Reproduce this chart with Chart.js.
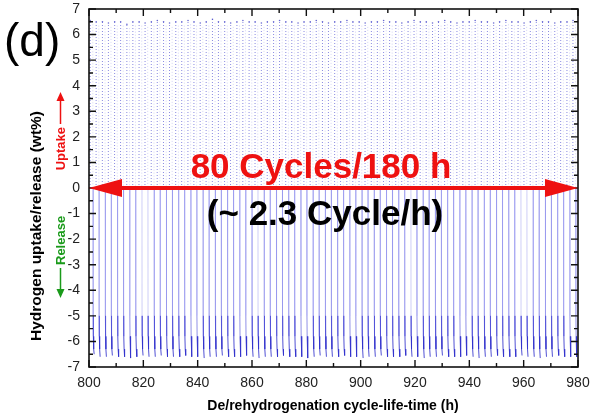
<!DOCTYPE html>
<html><head><meta charset="utf-8">
<script src="https://cdn.jsdelivr.net/npm/chart.js@4"></script>
<style>html,body{margin:0;padding:0;background:#fff}canvas{display:block}</style>
</head><body>
<canvas id="c" width="592" height="416"></canvas>
<script>
// Cycle start times (h) (~2.25 h per cycle)
const cycleStart = [800.4,802.6,804.9,807.1,809.4,811.6,813.9,816.1,818.4,820.6,822.9,825.1,827.4,829.6,831.9,834.1,836.4,838.6,840.9,843.1,845.4,847.6,849.9,852.1,854.4,856.6,858.9,861.1,863.4,865.6,867.9,870.1,872.4,874.6,876.9,879.1,881.4,883.6,885.9,888.1,890.4,892.6,894.9,897.1,899.4,901.6,903.9,906.1,908.4,910.6,912.9,915.1,917.4,919.6,921.9,924.1,926.4,928.6,930.9,933.1,935.4,937.6,939.9,942.1,944.4,946.6,948.9,951.1,953.4,955.6,957.9,960.1,962.4,964.6,966.9,969.1,971.4,973.6,975.9,978.1];
// Uptake maximum per cycle (wt%)
const uptakeMax = [6.55,6.5,6.5,6.45,6.5,6.5,6.4,6.5,6.5,6.45,6.5,6.55,6.5,6.45,6.5,6.5,6.55,6.5,6.45,6.5,6.6,6.5,6.5,6.45,6.5,6.55,6.5,6.5,6.45,6.5,6.5,6.55,6.5,6.5,6.45,6.5,6.5,6.55,6.5,6.45,6.5,6.5,6.55,6.5,6.5,6.45,6.5,6.5,6.55,6.5,6.5,6.45,6.5,6.55,6.5,6.5,6.45,6.5,6.55,6.5,6.45,6.5,6.5,6.55,6.5,6.5,6.45,6.5,6.55,6.5,6.5,6.45,6.5,6.55,6.5,6.5,6.45,6.5,6.5,6.55];
// Release minimum per cycle (wt%)
const releaseMin = [-6.5,-6.6,-6.6,-6.55,-6.6,-6.6,-6.65,-6.6,-6.55,-6.6,-6.6,-6.55,-6.6,-6.6,-6.6,-6.55,-6.6,-6.6,-6.65,-6.6,-6.6,-6.55,-6.6,-6.6,-6.6,-6.55,-6.6,-6.65,-6.6,-6.6,-6.6,-6.55,-6.6,-6.6,-6.6,-6.65,-6.6,-6.55,-6.6,-6.6,-6.6,-6.55,-6.6,-6.6,-6.65,-6.6,-6.6,-6.55,-6.6,-6.6,-6.6,-6.55,-6.6,-6.6,-6.65,-6.6,-6.6,-6.55,-6.6,-6.6,-6.6,-6.55,-6.6,-6.65,-6.6,-6.6,-6.55,-6.6,-6.6,-6.6,-6.55,-6.6,-6.6,-6.65,-6.6,-6.6,-6.55,-6.6,-6.6,-6.6];
// Shape of one release trace: time offset (h) and level (wt%), last point is the cycle minimum
const releaseShapeT = [1.10, 1.13, 1.20, 1.32];
const releaseShapeY = [0, -5.0, -5.8, -6.3];
const xTicks = [800,820,840,860,880,900,920,940,960,980];
const yTicks = [7,6,5,4,3,2,1,0,-1,-2,-3,-4,-5,-6,-7];

// build the per-cycle traces
const upData = [], retData = [], relData = [], tipData = [];
cycleStart.forEach((t, i) => {
  upData.push({x: t, y: 0}, {x: t + 0.05, y: uptakeMax[i]}, {x: t + 0.06, y: null});
  retData.push({x: t + 1.0, y: uptakeMax[i] - 0.15}, {x: t + 1.02, y: 0}, {x: t + 1.03, y: null});
  releaseShapeT.forEach((dt, k) => relData.push({x: t + dt, y: releaseShapeY[k]}));
  relData.push({x: t + 1.5, y: releaseMin[i]}, {x: t + 1.51, y: null});
  tipData.push({x: t + 0.05, y: uptakeMax[i]});
});

const FONT = 'Liberation Sans, Arial, sans-serif';

const deco = {
  id: 'deco',
  afterDraw(chart) {
    const ctx = chart.ctx, xs = chart.scales.x, ys = chart.scales.y, a = chart.chartArea;
    ctx.save();
    // frame
    ctx.strokeStyle = '#111'; ctx.lineWidth = 1.6;
    ctx.strokeRect(a.left, a.top, a.right - a.left, a.bottom - a.top);
    // ticks
    ctx.lineWidth = 1.4;
    ctx.beginPath();
    for (let v = 800; v <= 980; v += 10) {
      const p = xs.getPixelForValue(v), L = (v % 20 === 0) ? 7 : 4;
      ctx.moveTo(p, a.bottom); ctx.lineTo(p, a.bottom - L);
      ctx.moveTo(p, a.top); ctx.lineTo(p, a.top + L);
    }
    for (let k = -14; k <= 14; k++) {
      const v = k / 2, p = ys.getPixelForValue(v), L = (k % 2 === 0) ? 7 : 4;
      ctx.moveTo(a.left, p); ctx.lineTo(a.left + L, p);
      ctx.moveTo(a.right, p); ctx.lineTo(a.right - L, p);
    }
    ctx.stroke();
    // tick labels
    ctx.fillStyle = '#222';
    ctx.font = '14px ' + FONT;
    ctx.textAlign = 'center'; ctx.textBaseline = 'middle';
    xTicks.forEach(v => ctx.fillText(String(v), xs.getPixelForValue(v), a.bottom + 16));
    ctx.textAlign = 'right';
    yTicks.forEach(v => ctx.fillText(String(v), a.left - 9, ys.getPixelForValue(v)));
    ctx.textBaseline = 'alphabetic';
    // red double arrow on y = 0
    const y0 = ys.getPixelForValue(0);
    const xl = xs.getPixelForValue(800), xr = xs.getPixelForValue(980);
    ctx.fillStyle = '#ee1111'; ctx.strokeStyle = '#ee1111';
    ctx.lineWidth = 4;
    ctx.beginPath(); ctx.moveTo(xl + 20, y0); ctx.lineTo(xr - 20, y0); ctx.stroke();
    ctx.beginPath(); ctx.moveTo(xl, y0); ctx.lineTo(xl + 33, y0 - 9); ctx.lineTo(xl + 33, y0 + 9); ctx.closePath(); ctx.fill();
    ctx.beginPath(); ctx.moveTo(xr, y0); ctx.lineTo(xr - 33, y0 - 9); ctx.lineTo(xr - 33, y0 + 9); ctx.closePath(); ctx.fill();
    // big texts
    ctx.textAlign = 'center';
    ctx.font = 'bold 35px ' + FONT;
    ctx.fillStyle = '#ee1111';
    ctx.fillText('80 Cycles/180 h', 321, 178);
    ctx.fillStyle = '#000';
    ctx.fillText('(~ 2.3 Cycle/h)', 325, 225);
    // (d)
    ctx.textAlign = 'left';
    ctx.font = '46px ' + FONT;
    ctx.fillText('(d)', 4, 56);
    // x title
    ctx.textAlign = 'center';
    ctx.font = 'bold 14px ' + FONT;
    ctx.fillText('De/rehydrogenation cycle-life-time (h)', 333, 410);
    // y title
    ctx.save();
    ctx.translate(41, 226); ctx.rotate(-Math.PI / 2);
    ctx.font = 'bold 15.5px ' + FONT;
    ctx.fillText('Hydrogen uptake/release (wt%)', 0, 0);
    ctx.restore();
    // Uptake / Release labels with arrows
    ctx.save();
    ctx.translate(65, 0); ctx.rotate(-Math.PI / 2);
    ctx.font = 'bold 13px ' + FONT;
    ctx.textAlign = 'right';
    ctx.fillStyle = '#ee1111';
    ctx.fillText('Uptake', -127, 0);
    ctx.strokeStyle = '#ee1111'; ctx.lineWidth = 1.5;
    ctx.beginPath(); ctx.moveTo(-124, -4.5); ctx.lineTo(-100, -4.5); ctx.stroke();
    ctx.beginPath(); ctx.moveTo(-92, -4.5); ctx.lineTo(-101, -8.5); ctx.lineTo(-101, -0.5); ctx.closePath(); ctx.fill();
    ctx.fillStyle = '#1a9a1a'; ctx.strokeStyle = '#1a9a1a';
    ctx.textAlign = 'left';
    ctx.fillText('Release', -265, 0);
    ctx.beginPath(); ctx.moveTo(-268, -4.5); ctx.lineTo(-290, -4.5); ctx.stroke();
    ctx.beginPath(); ctx.moveTo(-298, -4.5); ctx.lineTo(-289, -8.5); ctx.lineTo(-289, -0.5); ctx.closePath(); ctx.fill();
    ctx.restore();
    ctx.restore();
  }
};

new Chart(document.getElementById('c'), {
  type: 'line',
  data: {
    datasets: [
      {data: retData, borderColor: 'rgba(120,120,230,0.3)', borderWidth: 1, borderDash: [1, 2], pointRadius: 0, spanGaps: false},
      {data: upData, borderColor: 'rgba(60,60,205,0.6)', borderWidth: 1, borderDash: [1, 2], pointRadius: 0, spanGaps: false},
      {data: relData, borderWidth: 1, pointRadius: 0, spanGaps: false,
       borderColor: 'rgba(115,115,232,0.35)',
       segment: {borderColor: c => {
         const y = c.p0.parsed.y;
         if (y <= -5.7) return 'rgba(50,50,205,0.85)';
         if (y <= -4.9) return 'rgba(70,70,215,0.6)';
         return 'rgba(115,115,232,0.35)';
       }}},
      {data: tipData, showLine: false, pointRadius: 0.8, pointBackgroundColor: 'rgba(40,40,190,0.7)', pointBorderWidth: 0}
    ]
  },
  options: {
    responsive: false, animation: false, devicePixelRatio: 1,
    layout: {padding: {top: 9, right: 14, left: 0, bottom: 0}},
    plugins: {legend: {display: false}, tooltip: {enabled: false}},
    scales: {
      x: {
        type: 'linear', min: 800, max: 980,
        afterFit: s => { s.height = 49; },
        grid: {display: false, drawTicks: false},
        border: {display: false},
        ticks: {display: false}
      },
      y: {
        type: 'linear', min: -7, max: 7,
        afterFit: s => { s.width = 89; },
        grid: {display: false, drawTicks: false},
        border: {display: false},
        ticks: {display: false}
      }
    }
  },
  plugins: [deco]
});
</script>
</body></html>
